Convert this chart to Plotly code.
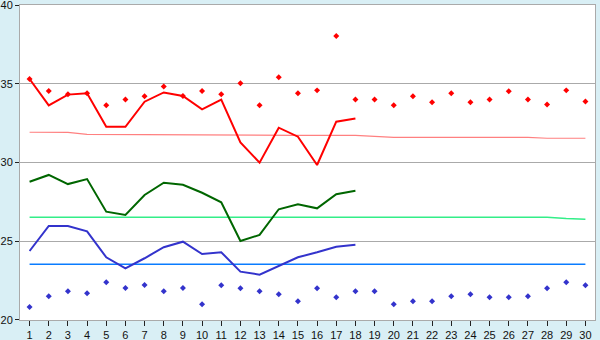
import plotly.graph_objects as go

days = list(range(1, 31))
days18 = list(range(1, 19))

red_line = [35.30, 33.63, 34.31, 34.39, 32.27, 32.27, 33.86, 34.45, 34.22, 33.37,
            34.00, 31.28, 29.99, 32.21, 31.64, 29.84, 32.59, 32.80]
red_points = [35.30, 34.54, 34.33, 34.39, 33.63, 34.00, 34.20, 34.83, 34.22, 34.54,
              34.33, 35.03, 33.63, 35.41, 34.39, 34.58, 38.03, 34.00, 34.00, 33.63,
              34.20, 33.82, 34.39, 33.82, 34.00, 34.52, 34.00, 33.69, 34.58, 33.88]
pink_line = [31.92, 31.92, 31.91, 31.79, 31.78, 31.78, 31.78, 31.78, 31.78, 31.76,
             31.72, 31.72, 31.72, 31.72, 31.72, 31.72, 31.72, 31.72, 31.66, 31.60,
             31.60, 31.60, 31.60, 31.60, 31.60, 31.60, 31.60, 31.54, 31.54, 31.54]
green_line = [28.78, 29.21, 28.63, 28.95, 26.88, 26.67, 27.94, 28.72, 28.59, 28.08,
              27.47, 25.02, 25.40, 27.03, 27.34, 27.09, 27.98, 28.21]
lightgreen_line = [26.52] * 28 + [26.44, 26.40]
blue_line = [24.38, 25.97, 25.97, 25.63, 23.98, 23.28, 23.92, 24.62, 24.97, 24.19,
             24.30, 23.07, 22.88, 23.45, 23.98, 24.30, 24.65, 24.78]
brightblue_line = [23.54] * 30
blue_points = [20.83, 21.50, 21.82, 21.70, 22.39, 22.03, 22.22, 21.82, 22.03, 21.00,
               22.20, 22.01, 21.82, 21.63, 21.19, 22.01, 21.44, 21.82, 21.82, 21.00,
               21.19, 21.19, 21.50, 21.63, 21.44, 21.44, 21.50, 22.01, 22.39, 22.20]
y_ticks = [20, 25, 30, 35, 40]

fig = go.Figure()
fig.add_trace(go.Scatter(x=days, y=pink_line, mode="lines", line=dict(color="#ff8080", width=1.2)))
fig.add_trace(go.Scatter(x=days, y=lightgreen_line, mode="lines", line=dict(color="#33ee88", width=1.5)))
fig.add_trace(go.Scatter(x=days, y=brightblue_line, mode="lines", line=dict(color="#0a7cff", width=1.5)))
fig.add_trace(go.Scatter(x=days18, y=green_line, mode="lines", line=dict(color="#006600", width=2)))
fig.add_trace(go.Scatter(x=days18, y=blue_line, mode="lines", line=dict(color="#3333cc", width=2)))
fig.add_trace(go.Scatter(x=days18, y=red_line, mode="lines", line=dict(color="#ff0000", width=2)))
fig.add_trace(go.Scatter(x=days, y=red_points, mode="markers",
                         marker=dict(symbol="diamond", size=4.6, color="#ff0000", line=dict(width=0))))
fig.add_trace(go.Scatter(x=days, y=blue_points, mode="markers",
                         marker=dict(symbol="diamond", size=4.6, color="#3333cc", line=dict(width=0))))

fig.update_layout(
    width=600, height=340,
    margin=dict(l=20, r=5, t=5, b=20),
    paper_bgcolor="#d9eff5",
    plot_bgcolor="#ffffff",
    showlegend=False,
    font=dict(family="Liberation Sans", size=11, color="#111111"),
)
fig.update_xaxes(
    range=[0.5, 30.5], tickmode="array", tickvals=days, ticktext=[str(d) for d in days],
    showgrid=False, zeroline=False, showline=True, linecolor="#aaaaaa", linewidth=1, mirror=True,
    ticks="outside", ticklen=5, tickcolor="#222222", tickfont=dict(size=11),
    ticklabeloverflow="allow", automargin=False,
)
fig.update_yaxes(
    range=[19.999, 40.001], tickmode="array", tickvals=y_ticks,
    ticktext=[str(t) for t in y_ticks],
    showgrid=True, gridcolor="#aaaaaa", gridwidth=1, zeroline=False,
    showline=True, linecolor="#aaaaaa", linewidth=1, mirror=True,
    ticks="outside", ticklen=4, tickcolor="#222222", tickfont=dict(size=11),
    ticklabeloverflow="allow", automargin=False,
)

fig.write_html("out.html")
